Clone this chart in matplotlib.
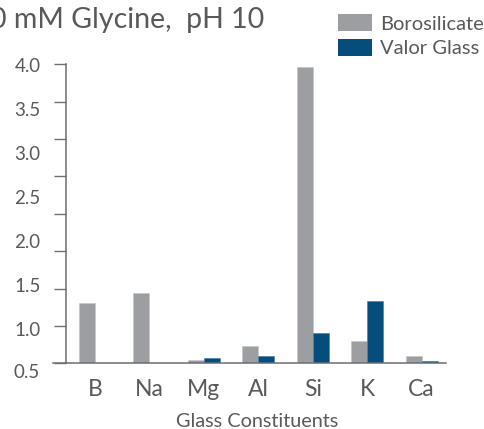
import numpy as np
import matplotlib
matplotlib.use("Agg")
import matplotlib.pyplot as plt
from matplotlib.patches import Patch
from matplotlib.transforms import blended_transform_factory

categories = ["B", "Na", "Mg", "Al", "Si", "K", "Ca"]
borosilicate = [1.29, 1.41, 0.65, 0.81, 3.98, 0.86, 0.69]
valor_glass = [np.nan, np.nan, 0.67, 0.69, 0.95, 1.32, 0.64]
ytick_values = [0.5, 1.0, 1.5, 2.0, 2.5, 3.0, 3.5, 4.0]
ytick_labels = ["0.5", "1.0", "1.5", "2.0", "2.5", "3.0", "3.5", "4.0"]
title = "0 mM Glycine,  pH 10"
xlabel = "Glass Constituents"
series_names = ["Borosilicate", "Valor Glass"]

GRAY = "#9d9ea2"
BLUE = "#064d7c"
TXT = "#58595b"
AX = "#6d6e71"
FONT = "Lato"

W, H = 484, 429
fig = plt.figure(figsize=(W / 100, H / 100), dpi=100)
plt.rcParams["font.family"] = [FONT, "DejaVu Sans"]

# axes box in pixels
L, R, T, B = 53, 446, 64.3, 363.3
ax = fig.add_axes([L / W, 1 - B / H, (R - L) / W, (B - T) / H])

x = np.arange(len(categories))
bw = 0.294
ax.bar(x - bw / 2, borosilicate, width=bw, color=GRAY, edgecolor="#c4c5c8", linewidth=0.4)
ax.bar(x + bw / 2, valor_glass, width=bw, color=BLUE, edgecolor="#3f7aa3", linewidth=0.4)

ymin, ymax = 0.61, 4.008
ax.set_ylim(ymin, ymax)
ax.set_xlim(-0.772, 6.45)

for s in ["top", "right"]:
    ax.spines[s].set_visible(False)
ax.spines["left"].set_position(("axes", 12.5 / (R - L)))
for s in ["left", "bottom"]:
    ax.spines[s].set_color(AX)
    ax.spines[s].set_linewidth(1.1)

# tick marks (unlabelled, evenly spaced) and labels
ax.set_yticks(np.linspace(ymin, ymax, 9), minor=True)
ax.tick_params(axis="y", which="minor", length=8.6, width=1.0, color=AX, direction="out")
major = [v for v in ytick_values if v >= ymin]
ax.set_yticks(major)
ax.set_yticklabels([l for v, l in zip(ytick_values, ytick_labels) if v >= ymin])
ax.tick_params(axis="y", which="major", length=0, pad=18.0, labelsize=13.5, labelcolor=TXT)
trans = blended_transform_factory(ax.transAxes, ax.transData)
for v, l in zip(ytick_values, ytick_labels):
    if v < ymin:
        ax.text((40 - L) / (R - L), v, l, transform=trans, ha="right", va="center",
                fontsize=13.5, color=TXT, clip_on=False)

ax.set_xticks(x)
ax.set_xticklabels(categories)
ax.tick_params(axis="x", length=0, pad=11, labelsize=16.5, labelcolor=TXT)

fig.text(256.7 / W, 1 - 427 / H, xlabel, ha="center", va="baseline", fontsize=14.3, color=TXT)
fig.text(-10 / W, 1 - 28 / H, title, ha="left", va="baseline", fontsize=20.5, color=TXT)

handles = [Patch(facecolor=GRAY, edgecolor="none"), Patch(facecolor=BLUE, edgecolor="none")]
fig.legend(handles, series_names, loc="upper left", bbox_to_anchor=(337.7 / W, 1 - 14 / H),
           frameon=False, fontsize=14.5, labelcolor=TXT, handlelength=1.7, handleheight=0.95,
           handletextpad=0.41, labelspacing=0.3, borderpad=0, borderaxespad=0)

fig.savefig("out.png", dpi=100)
